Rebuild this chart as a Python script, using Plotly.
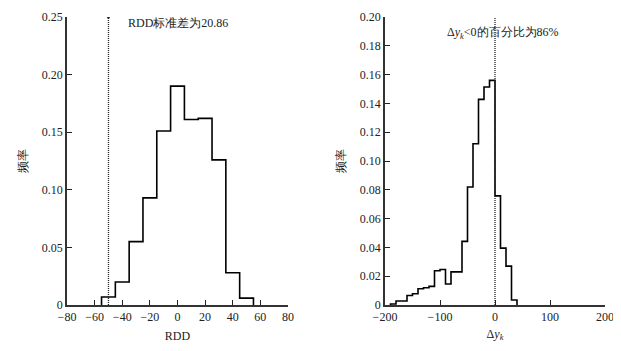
import plotly.graph_objects as go

# ---- data ----
rdd_edges = [-55, -45, -35, -25, -15, -5, 5, 15, 25, 35, 45, 55]
rdd_freq = [0.007, 0.020, 0.055, 0.093, 0.151, 0.190, 0.161, 0.162, 0.126, 0.028, 0.006]
rdd_ref = -50

dy_edges = list(range(-190, 41, 10))
dy_freq = [0.0007, 0.0028, 0.0028, 0.0066, 0.0078, 0.0113, 0.0120, 0.0129,
           0.0238, 0.0247, 0.0146, 0.0230, 0.0230, 0.0442, 0.0819, 0.1120,
           0.1428, 0.1514, 0.1560, 0.0758, 0.0395, 0.0270, 0.0035]
dy_ref = 0

left_xticks = [-80, -60, -40, -20, 0, 20, 40, 60, 80]
left_yticks = [0, 0.05, 0.10, 0.15, 0.20, 0.25]
left_ytext = ["0", "0.05", "0.10", "0.15", "0.20", "0.25"]
right_xticks = [-200, -100, 0, 100, 200]
right_yticks = [0, 0.02, 0.04, 0.06, 0.08, 0.10, 0.12, 0.14, 0.16, 0.18, 0.20]
right_ytext = ["0", "0.02", "0.04", "0.06", "0.08", "0.10", "0.12", "0.14", "0.16", "0.18", "0.20"]

FONT = "Liberation Serif"

# page body has an 8px margin: figure is drawn 8px in from top-left
W, H = 613, 343
OFF = 8


def step_xy(edges, vals):
    xs = [edges[0]] + list(edges)
    ys = [0] + list(vals) + [0]
    return xs, ys


def minus(v):
    return f"{v:g}".replace("-", "\u2212")


def xd(a, b):
    return [(a - OFF) / W, (b - OFF) / W]


def yd(top, bottom):
    return [(H - (bottom - OFF)) / H, (H - (top - OFF)) / H]


fig = go.Figure()

xs, ys = step_xy(rdd_edges, rdd_freq)
fig.add_trace(go.Scatter(x=xs, y=ys, mode="lines", line=dict(shape="hv", color="black", width=1.6),
                         xaxis="x", yaxis="y", showlegend=False, hoverinfo="skip"))
fig.add_trace(go.Scatter(x=[rdd_ref, rdd_ref], y=[0, left_yticks[-1]], mode="lines",
                         line=dict(color="#222", width=1.3, dash="1px,1px"),
                         xaxis="x", yaxis="y", showlegend=False, hoverinfo="skip"))
fig.add_trace(go.Scatter(x=[rdd_ref], y=[left_yticks[-1]], mode="markers",
                         marker=dict(color="#222", size=3),
                         xaxis="x", yaxis="y", showlegend=False, hoverinfo="skip"))

xs, ys = step_xy(dy_edges, dy_freq)
fig.add_trace(go.Scatter(x=xs, y=ys, mode="lines", line=dict(shape="hv", color="black", width=1.6),
                         xaxis="x2", yaxis="y2", showlegend=False, hoverinfo="skip"))
fig.add_trace(go.Scatter(x=[dy_ref, dy_ref], y=[0, right_yticks[-1]], mode="lines",
                         line=dict(color="#222", width=1.3, dash="1px,1px"),
                         xaxis="x2", yaxis="y2", showlegend=False, hoverinfo="skip"))

axis_common = dict(showgrid=False, zeroline=False, showline=True, linecolor="#333", linewidth=1.5,
                   ticks="inside", ticklen=5, tickwidth=1.3, tickcolor="#222", automargin=False,
                   tickfont=dict(family=FONT, size=12, color="#222"))

fig.update_layout(
    width=W, height=H,
    margin=dict(l=0, r=0, t=0, b=0, autoexpand=False),
    paper_bgcolor="white", plot_bgcolor="white",
    font=dict(family=FONT, size=12, color="#222"),
    xaxis=dict(domain=xd(67, 288), range=[-80, 80], anchor="y",
               tickvals=left_xticks, ticktext=[minus(v) for v in left_xticks],
               title=dict(text="RDD", font=dict(family=FONT, size=12), standoff=8),
               **axis_common),
    yaxis=dict(domain=yd(17, 305), range=[0, 0.25], anchor="x",
               tickvals=left_yticks, ticktext=left_ytext,
               title=dict(text="频率", font=dict(family=FONT, size=12), standoff=12),
               **axis_common),
    xaxis2=dict(domain=xd(385, 605), range=[-200, 200], anchor="y2",
                tickvals=right_xticks, ticktext=[minus(v) for v in right_xticks],
                title=dict(text="Δ<i>y</i><sub><i>k</i></sub>", font=dict(family=FONT, size=12), standoff=6),
                **axis_common),
    yaxis2=dict(domain=yd(17, 305), range=[0, 0.20], anchor="x2",
                tickvals=right_yticks, ticktext=right_ytext,
                title=dict(text="频率", font=dict(family=FONT, size=12), standoff=12),
                **axis_common),
    annotations=[
        dict(text="RDD标准差为20.86", x=0, y=0.245, xref="x", yref="y", xanchor="center",
             yanchor="middle", showarrow=False, font=dict(family=FONT, size=12, color="#222")),
        dict(text="Δ<i>y</i><sub><i>k</i></sub><0的百分比为86%", x=15, y=0.189, xref="x2", yref="y2",
             xanchor="center", yanchor="middle", showarrow=False,
             font=dict(family=FONT, size=12, color="#222")),
    ],
)

fig.write_html("out.html")
